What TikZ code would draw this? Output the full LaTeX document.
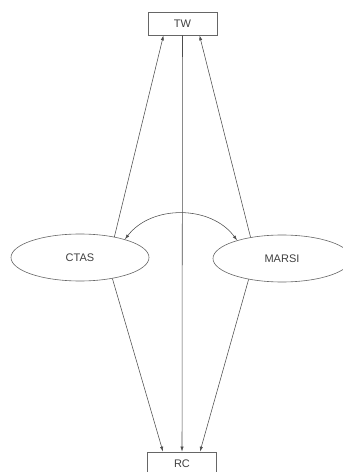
\documentclass[tikz,border=0pt]{standalone}
\usepackage{fontspec}
\setmainfont{Liberation Sans}
\usetikzlibrary{shapes.geometric,arrows.meta,calc}
\begin{document}
\begin{tikzpicture}[x=1pt,y=1pt,
  lbl/.style={font=\fontsize{11}{13}\selectfont, text=black!75},
  boxnode/.style={lbl, draw=black!60, line width=0.6pt, minimum width=69pt, minimum height=23pt, inner sep=0pt},
  ellnode/.style={lbl, ellipse, draw=black!60, line width=0.6pt, minimum width=138pt, minimum height=47pt, inner sep=0pt},
  conn/.style={draw=black!70, line width=0.55pt, -{Latex[length=5pt,width=3.2pt]}}]
\useasboundingbox (0,0) rectangle (343,472);
\node[boxnode] (tw) at (182.5,448.5) {TW};
\node[boxnode] (rc) at (182,8.5) {RC};
\node[ellnode] (ctas) at (80,214.5) {CTAS};
\node[ellnode] (marsi) at (282,213.5) {MARSI};
\draw[conn] (ctas.31) -- ($(tw.south)+(-19,0)$);
\draw[conn] (marsi.146) -- ($(tw.south)+(17,0)$);
\draw[conn] (tw.south) -- (rc.north);
\draw[conn] (ctas.-33) -- ($(rc.north)+(-19,0)$);
\draw[conn] (marsi.212) -- ($(rc.north)+(18,0)$);
\draw[draw=black!70, line width=0.55pt, {Latex[length=5pt,width=3.2pt]}-{Latex[length=5pt,width=3.2pt]}] (ctas.22) to[bend left=53] (marsi.158);
\end{tikzpicture}
\end{document}
